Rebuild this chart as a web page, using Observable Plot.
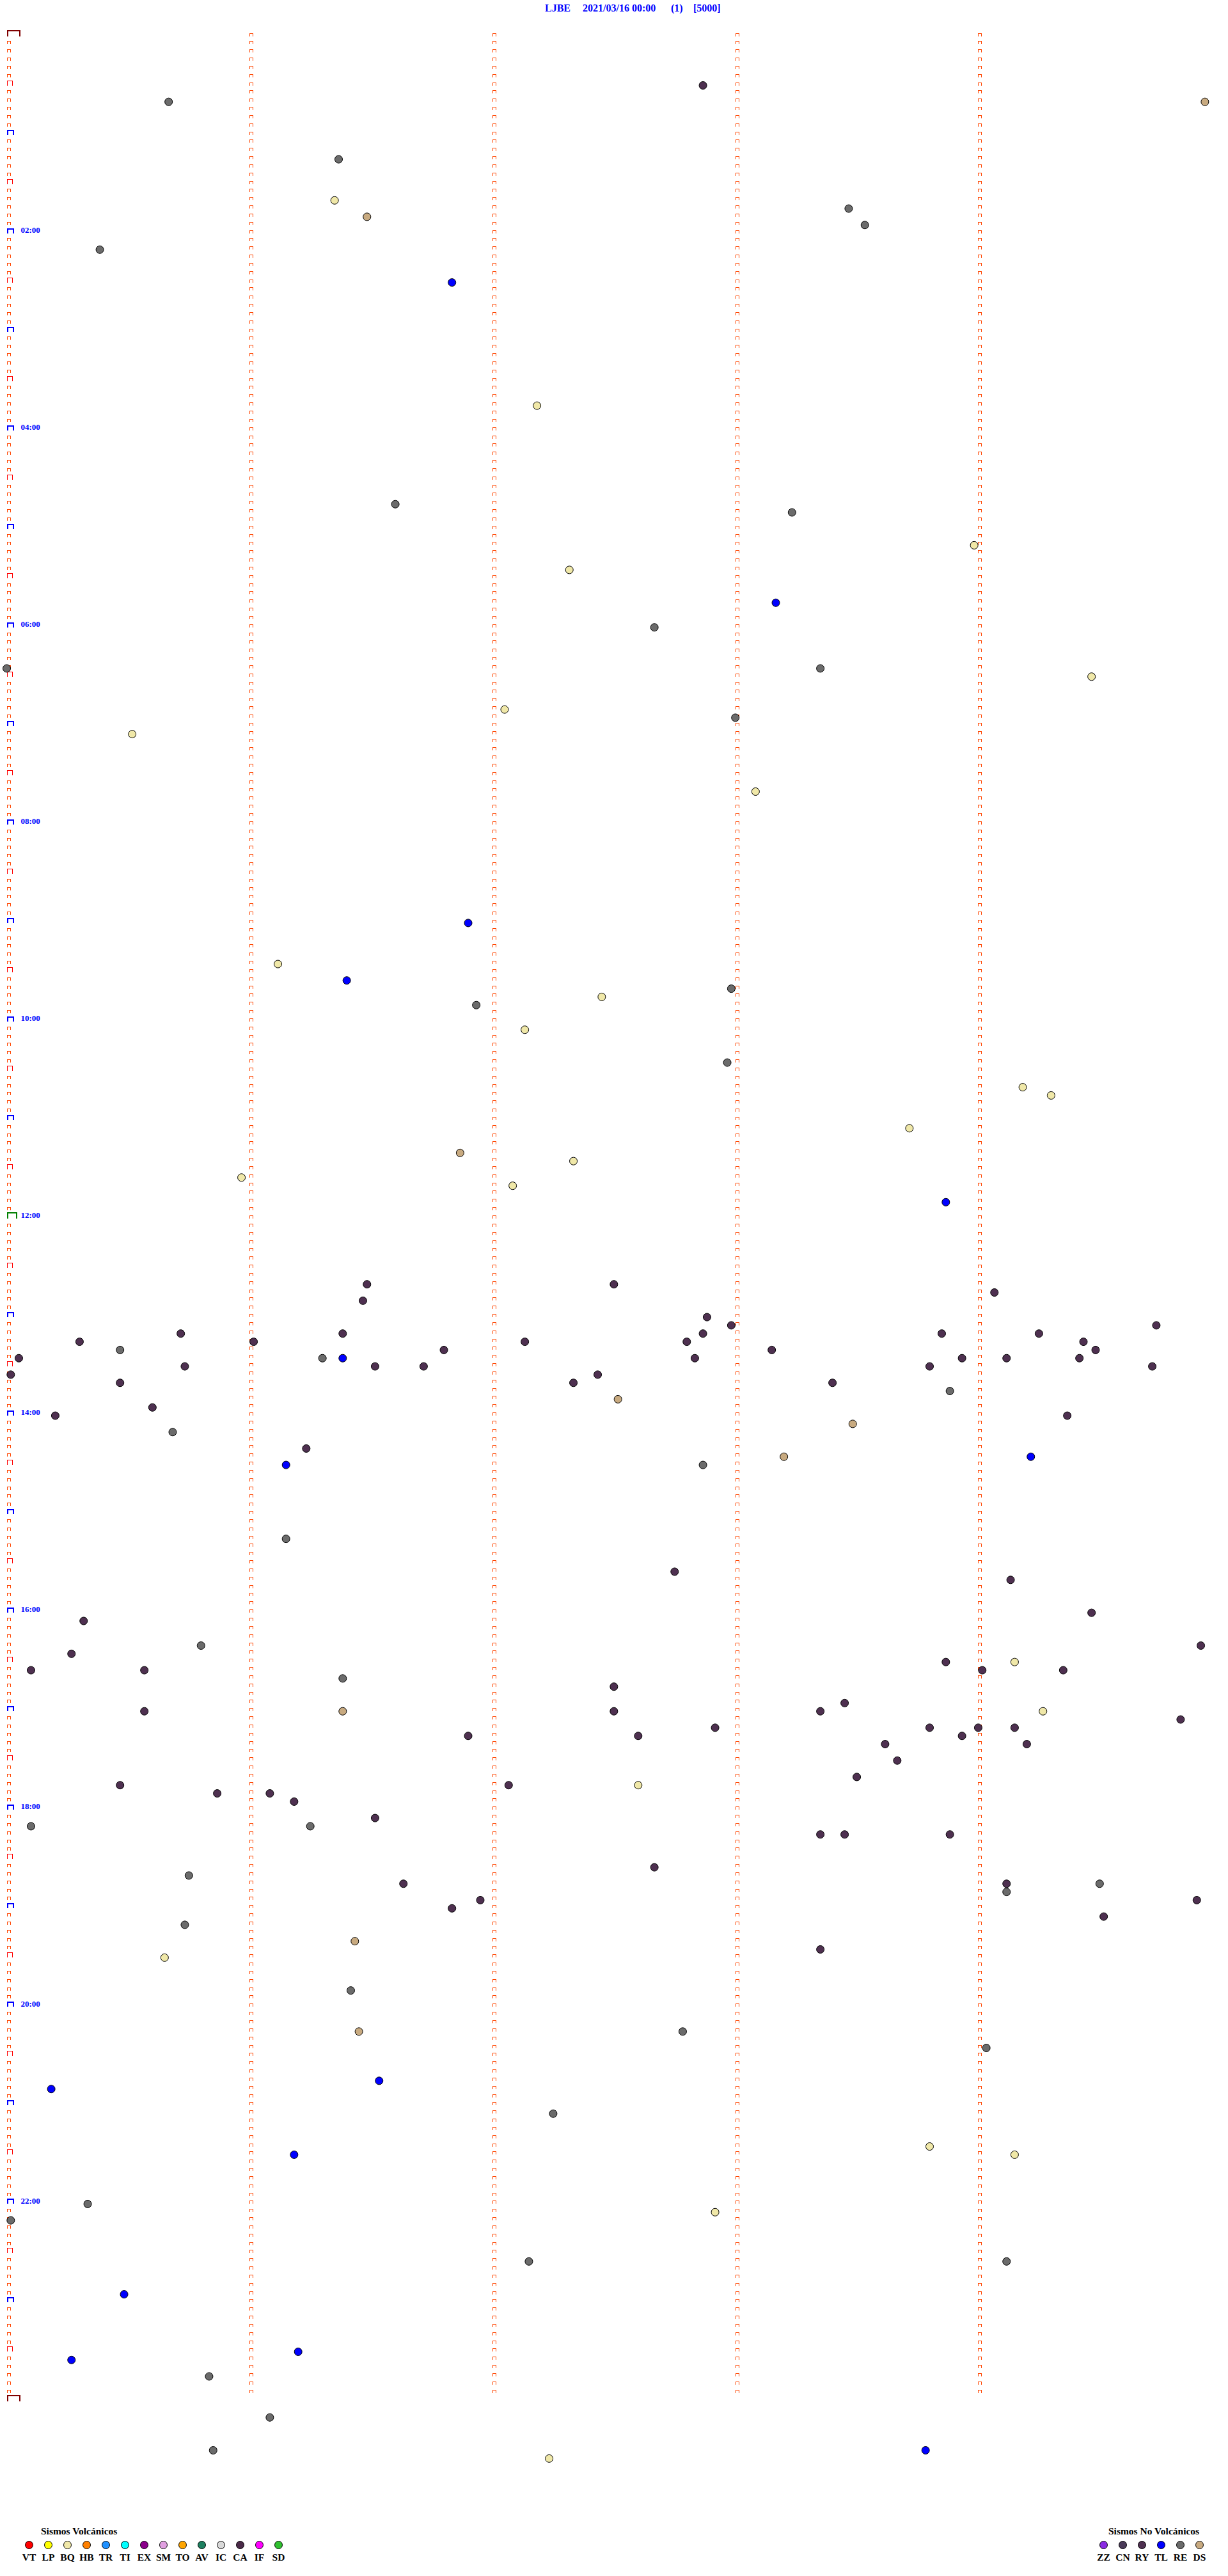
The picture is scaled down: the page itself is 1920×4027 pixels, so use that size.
<!DOCTYPE html>
<html>
<head>
<meta charset="utf-8">
<script src="https://cdn.jsdelivr.net/npm/d3@7"></script>
<script src="https://cdn.jsdelivr.net/npm/@observablehq/plot@0.6"></script>
<style>
  body { margin: 0; background: #fff; }
  #wrap { position: relative; width: 1920px; height: 4027px; overflow: hidden; background: #fff;
          font-family: "Liberation Serif", "Times New Roman", serif; }
  .abs { position: absolute; white-space: pre; font-weight: bold; }
  .ttl { color: #0000ff; font-size: 16px; line-height: 16px; }
  .leg { color: #000; font-size: 15.5px; line-height: 16px; }
  #wrap svg { position: absolute; }
</style>
</head>
<body>
<div id="wrap"></div>
<script>
// ---------- data ----------
const station = "LJBE";
const dateLabel = "2021/03/16 00:00";
const countLabel = "(1)";
const scaleLabel = "[5000]";

const hourLabels = ["02:00","04:00","06:00","08:00","10:00","12:00","14:00","16:00","18:00","20:00","22:00"];

const volcanicTypes  = ["VT","LP","BQ","HB","TR","TI","EX","SM","TO","AV","IC","CA","IF","SD"];
const volcanicColors = ["#ff0000","#ffff00","#f0e8a8","#ff8000","#1e90ff","#00ffff","#8b008b","#e0a0e0","#ffa500","#1e8060","#d8d8d8","#4a2a48","#ff00ff","#30c030"];
const nonVolcanicTypes  = ["ZZ","CN","RY","TL","RE","DS"];
const nonVolcanicColors = ["#8a2be2","#4a3a58","#4e3050","#0000ff","#6b6b6b","#c8aa80"];

const eventTimes = [
  "00:32:52","00:40:40","00:44:56","01:16:22","01:41:21","01:51:29","01:48:28","01:58:32","02:10:23","02:31:50",
  "03:47:11","04:46:36","04:53:14","05:13:59","05:27:19","05:48:10","06:02:40",
  "06:25:00","06:28:21","06:34:28","06:52:03","06:58:00","07:05:31","07:43:05","09:01:54","09:26:07","09:36:24",
  "09:47:27","09:42:59","09:51:56","10:07:08","10:27:58","10:44:11","10:49:18","11:08:43","11:21:52","11:27:20",
  "11:35:58","11:42:05","11:53:52",
  "12:41:29","12:42:30","12:49:04","12:51:28","13:02:53","13:07:59","13:09:44","13:10:43","13:11:23","13:12:52",
  "13:13:51","13:14:15","13:15:18","13:16:01","13:17:08","13:17:48","13:19:26","13:20:28","13:21:48","13:23:09",
  "13:24:29","13:25:03","13:26:18","13:26:23","13:27:50","13:28:56","13:29:07","13:29:25","13:30:44","13:31:31",
  "13:31:43","13:33:48","13:34:43","13:35:01","13:37:26","13:40:28","13:42:20","13:43:24","13:48:53","13:52:31",
  "13:55:36","14:00:12","14:04:22","14:08:29","14:10:41","14:21:14","14:28:12","14:29:13","14:31:09","14:32:52",
  "15:16:09","15:37:45","15:44:08","16:04:28","16:05:19","16:20:48","16:24:55","16:25:16","16:33:52","16:34:09",
  "16:35:06","16:35:34","16:39:01","16:39:21","16:41:23","16:47:30","16:58:27","17:00:34","17:01:23","17:02:30",
  "17:03:21","17:04:16","17:09:50","17:16:54","17:12:55","17:13:48","17:14:00","17:14:09","17:17:36","17:18:56",
  "17:23:37","17:24:12","17:33:40","17:43:30","17:45:28","17:47:04","17:47:36","17:50:52","17:51:05","17:56:11",
  "18:06:31","18:10:06","18:11:15","18:18:21","18:18:27","18:18:53","18:37:40",
  "18:40:45","18:46:38","18:49:07","18:49:30","18:54:07","18:56:57","18:59:54","19:01:50","19:09:31","19:10:44",
  "19:21:26","19:28:21","19:30:39","19:51:25","20:16:27","20:17:47","20:29:02","20:46:32","20:50:11","21:07:15",
  "21:28:48","21:31:11","21:34:09","22:00:20","22:07:55","22:10:01","22:37:09","22:39:07","22:55:29","23:31:12",
  "23:35:16","23:45:50","24:11:05","24:30:51","24:37:14","24:33:47"
];
const eventTypes = [
  "RY","RE","DS","RE","BQ","DS","RE","RE","RE","TL",
  "BQ","RE","RE","BQ","BQ","TL","RE",
  "RE","RE","BQ","BQ","RE","BQ","BQ","TL","BQ","TL",
  "BQ","RE","RE","BQ","RE","BQ","BQ","BQ","DS","BQ",
  "BQ","BQ","TL",
  "RY","RY","RY","RY","RY","RY","RY","RY","RY","RY",
  "RY","RY","RY","RY","RY","RY","RY","RE","RY","RY",
  "RY","RY","RE","TL","RY","RY","RY","RY","RY","RY",
  "RY","RY","RY","RY","RY","RY","RY","RY","RE","DS",
  "RY","RY","RY","DS","RE","RY","DS","TL","TL","RE",
  "RE","RY","RY","RY","RY","RE","RY","RY","RY","BQ",
  "RY","RY","RY","RY","RE","RY","RY","RY","DS","RY",
  "RY","BQ","RY","RY","RY","RY","RY","RY","RY","RY",
  "RY","RY","RY","RY","RY","RY","BQ","RY","RY","RY",
  "RY","RE","RE","RY","RY","RY","RY",
  "RE","RY","RY","RE","RE","RY","RY","RY","RY","RE",
  "DS","RY","BQ","RE","DS","RE","RE","TL","TL","RE",
  "BQ","TL","BQ","RE","BQ","RE","RE","RE","TL","TL",
  "TL","RE","RE","RE","BQ","TL"
];

// ---------- derived tables ----------
const ROW_SECONDS = 300;           // one helicorder line = 5 minutes
const ROWS_PER_DAY = 288;
const toSeconds = t => { const [h, m, s] = t.split(":").map(Number); return h * 3600 + m * 60 + s; };

const events = eventTimes.map((t, i) => {
  const tot = toSeconds(t);
  const row = Math.floor(tot / ROW_SECONDS);
  return { row, sec: tot - row * ROW_SECONDS, type: eventTypes[i] };
});

const markers = [];
for (let r = 0; r <= ROWS_PER_DAY; r++) {
  let kind = "min";
  if (r % 144 === 0) kind = (r === 144) ? "noon" : "day";
  else if (r % 12 === 0) kind = "hour";
  else if (r % 6 === 0) kind = "half";
  markers.push({ row: r, sec: 0, kind });
}
for (const c of [60, 120, 180, 240]) {
  for (let r = 0; r < ROWS_PER_DAY; r++) markers.push({ row: r, sec: c, kind: "min" });
}

const labelRows = hourLabels.map(l => ({ label: l, row: toSeconds(l + ":00") / ROW_SECONDS, sec: 0 }));

// ---------- styles ----------
const cap = (w, h, sw) => ({
  draw(ctx) {
    const o = sw / 2;
    ctx.moveTo(o, 0);
    ctx.lineTo(o, -h + o);
    ctx.lineTo(w - o, -h + o);
    ctx.lineTo(w - o, 0);
  }
});
const markerStyles = [
  { kind: "min",  w: 6,  h: 5,  sw: 1, color: "#ff4500" },
  { kind: "half", w: 9,  h: 8,  sw: 1, color: "#ff0000" },
  { kind: "hour", w: 11, h: 8,  sw: 2, color: "#0000ff" },
  { kind: "noon", w: 16, h: 10, sw: 2, color: "#008000" },
  { kind: "day",  w: 21, h: 10, sw: 2, color: "#800000" }
];

const allTypes = [...volcanicTypes, ...nonVolcanicTypes];
const allColors = [...volcanicColors, ...nonVolcanicColors];
const FONT = "Liberation Serif, Times New Roman, serif";

// ---------- main chart ----------
const chart = Plot.plot({
  width: 1920,
  height: 3880,
  margin: 0,
  style: { background: "white", fontFamily: FONT },
  x: { domain: [0, ROW_SECONDS], range: [10, 1908.7], axis: null },
  y: { domain: [0, ROWS_PER_DAY], range: [56, 3753], axis: null },
  color: { domain: allTypes, range: allColors },
  marks: [
    ...markerStyles.map(s => Plot.dot(markers.filter(m => m.kind === s.kind), {
      x: "sec", y: "row", symbol: cap(s.w, s.h, s.sw),
      fill: "none", stroke: s.color, strokeWidth: s.sw, shapeRendering: "crispEdges"
    })),
    Plot.text(labelRows, {
      x: "sec", y: "row", text: "label", dx: 22, dy: -5,
      textAnchor: "start", lineAnchor: "middle",
      fill: "#0000ff", fontWeight: "bold", fontSize: 13, fontFamily: FONT
    }),
    Plot.dot(events, { x: "sec", y: "row", r: 6, fill: "type", stroke: "black", strokeWidth: 1 })
  ]
});
chart.style.left = "0px";
chart.style.top = "0px";

const wrap = document.getElementById("wrap");
wrap.appendChild(chart);

// ---------- title ----------
[[station, 852], [dateLabel, 911], [countLabel, 1049], [scaleLabel, 1084]].forEach(([t, left]) => {
  const s = document.createElement("div");
  s.className = "abs ttl";
  s.style.left = left + "px";
  s.style.top = "5px";
  s.textContent = t;
  wrap.appendChild(s);
});

// ---------- legends ----------
function legendPlot(types, colors, width, xRange) {
  return Plot.plot({
    width, height: 45, margin: 0,
    style: { background: "white", fontFamily: FONT },
    x: { type: "point", domain: types, range: xRange, padding: 0, axis: null },
    color: { domain: types, range: colors },
    marks: [
      Plot.dot(types, { x: d => d, fill: d => d, r: 6, stroke: "black", strokeWidth: 1, frameAnchor: "top", dy: 12 }),
      Plot.text(types, { x: d => d, text: d => d, frameAnchor: "top", dy: 31.7, lineAnchor: "middle",
        fill: "black", fontWeight: "bold", fontSize: 15.5, fontFamily: FONT })
    ]
  });
}
const volLeg = legendPlot(volcanicTypes, volcanicColors, 470, [45, 435]);
volLeg.style.left = "0px"; volLeg.style.top = "3966px";
wrap.appendChild(volLeg);
const nonLeg = legendPlot(nonVolcanicTypes, nonVolcanicColors, 230, [35, 185]);
nonLeg.style.left = "1690px"; nonLeg.style.top = "3966px";
wrap.appendChild(nonLeg);

[["Sismos Volcánicos", 64], ["Sismos No Volcánicos", 1733]].forEach(([t, left]) => {
  const s = document.createElement("div");
  s.className = "abs leg";
  s.style.left = left + "px";
  s.style.top = "3949px";
  s.textContent = t;
  wrap.appendChild(s);
});
</script>
</body>
</html>
